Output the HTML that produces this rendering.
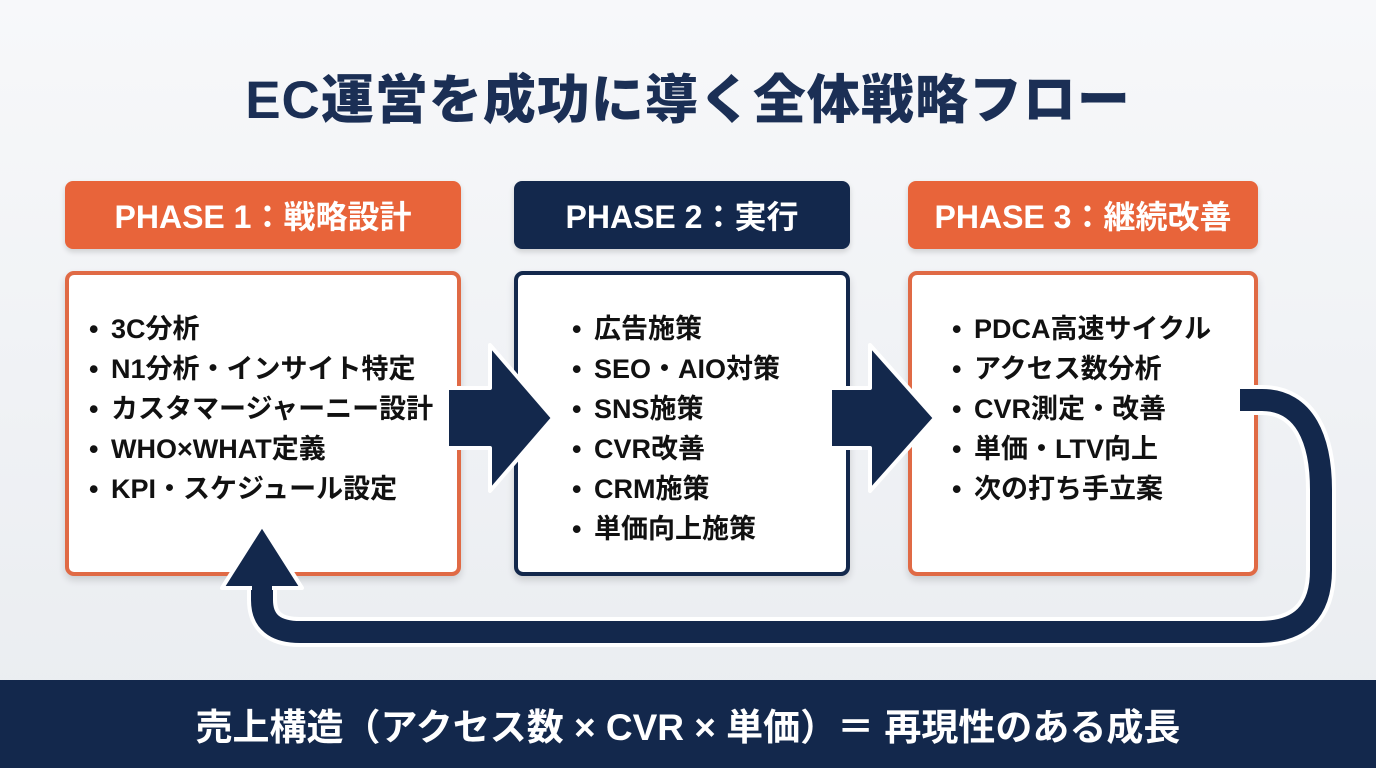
<!DOCTYPE html>
<html><head><meta charset="utf-8"><style>
body{margin:0;width:1376px;height:768px;overflow:hidden;background:linear-gradient(180deg,#f7f8fa,#e9ecf0);font-family:"Liberation Sans","Noto Sans CJK JP",sans-serif;position:relative}
.t{position:absolute;left:0;width:1376px;text-align:center;top:58px;font-size:53px;font-weight:900;color:#1b2f55;letter-spacing:1px}
.h{position:absolute;top:181px;height:68px;border-radius:8px;color:#fff;font-size:32px;font-weight:700;display:flex;align-items:center;justify-content:center;box-shadow:0 3px 6px rgba(0,0,0,.15)}
.o{background:#e8643a}.n{background:#13284c}
.b{position:absolute;top:271px;height:297px;background:#fff;border-radius:9px;border:4px solid;box-shadow:0 4px 8px rgba(0,0,0,.15)}
.b ul{list-style:none;margin:0;padding:0;position:absolute;top:34px;font-size:27px;font-weight:700;color:#111;line-height:40px;white-space:nowrap}
.b li span{display:inline-block;width:22px}
.bot{position:absolute;left:0;top:680px;width:1376px;height:88px;background:#13284c;color:#fff;font-size:37px;font-weight:700;display:flex;align-items:center;justify-content:center}
svg{position:absolute;left:0;top:0}
</style></head><body>
<div class="t">EC運営を成功に導く全体戦略フロー</div>
<div class="h o" style="left:65px;width:396px">PHASE 1：戦略設計</div>
<div class="h n" style="left:514px;width:336px">PHASE 2：実行</div>
<div class="h o" style="left:908px;width:350px">PHASE 3：継続改善</div>
<div class="b" style="left:65px;width:388px;border-color:#e06a45"><ul style="left:20px"><li><span>•</span>3C分析</li><li><span>•</span>N1分析・インサイト特定</li><li><span>•</span>カスタマージャーニー設計</li><li><span>•</span>WHO×WHAT定義</li><li><span>•</span>KPI・スケジュール設定</li></ul></div>
<div class="b" style="left:514px;width:328px;border-color:#13284c"><ul style="left:54px"><li><span>•</span>広告施策</li><li><span>•</span>SEO・AIO対策</li><li><span>•</span>SNS施策</li><li><span>•</span>CVR改善</li><li><span>•</span>CRM施策</li><li><span>•</span>単価向上施策</li></ul></div>
<div class="b" style="left:908px;width:342px;border-color:#e06a45"><ul style="left:40px"><li><span>•</span>PDCA高速サイクル</li><li><span>•</span>アクセス数分析</li><li><span>•</span>CVR測定・改善</li><li><span>•</span>単価・LTV向上</li><li><span>•</span>次の打ち手立案</li></ul></div>
<svg width="1376" height="768">
<g fill="#13284c" stroke="#fff" stroke-width="4" stroke-linejoin="round">
<path d="M447,388 H490 V345 L553,418 L490,491 V448 H447 Z"/>
<path d="M830,388 H870 V345 L935,418 L870,491 V448 H830 Z"/>
</g>
<path d="M1240,400 H1262 C1305,400 1321,440 1321,490 V570 Q1321,632 1259,632 H300 Q262,632 262,600 V575" fill="none" stroke="#fff" stroke-width="30"/>
<path d="M1240,400 H1262 C1305,400 1321,440 1321,490 V570 Q1321,632 1259,632 H300 Q262,632 262,600 V575" fill="none" stroke="#13284c" stroke-width="22"/>
<path d="M262,525 L302,588 H222 Z" fill="#13284c" stroke="#fff" stroke-width="4" stroke-linejoin="round"/>
<rect x="252" y="585" width="20" height="10" fill="#13284c"/>
</svg>
<div class="bot">売上構造（アクセス数 × CVR × 単価）＝ 再現性のある成長</div>
</body></html>
